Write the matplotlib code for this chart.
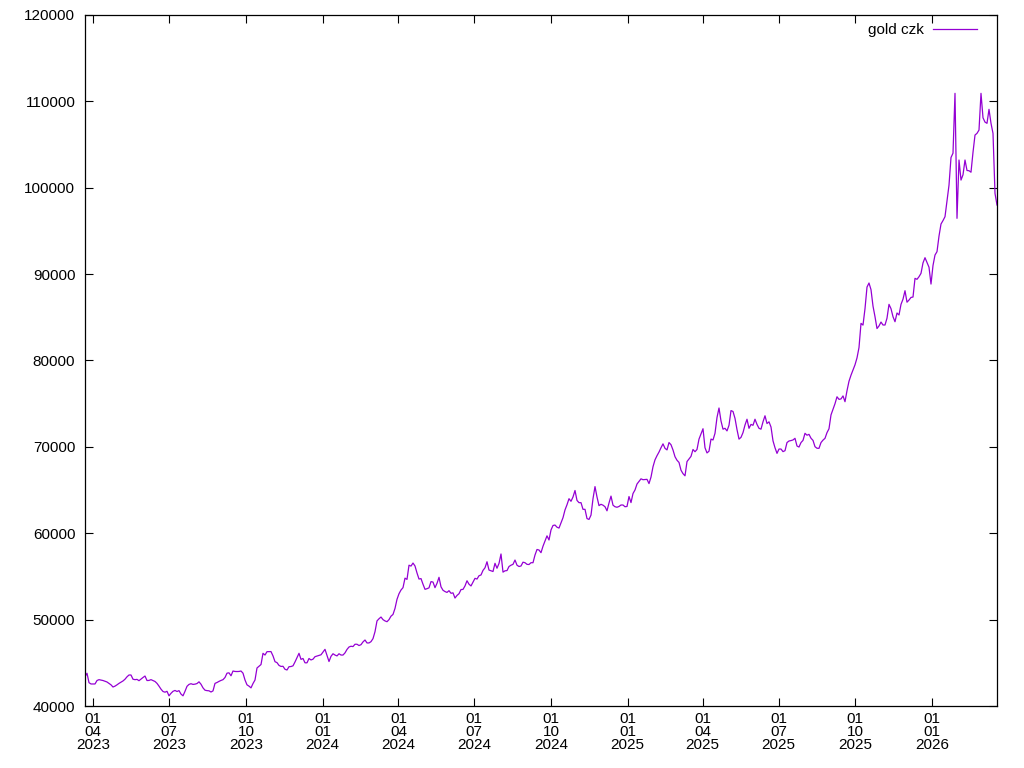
import matplotlib
matplotlib.use("Agg")
import matplotlib.pyplot as plt
import matplotlib.dates as mdates
import pandas as pd

plt.rcParams['font.family'] = ['Liberation Sans', 'DejaVu Sans']

start_date = "2023-03-22"
end_date = "2026-03-20"
series_label = "gold czk"

# gold price in CZK at evenly spaced dates
gold_2023 = [
    43400, 43790, 42700, 42550, 42550, 42550, 42950, 43050, 43000, 42950,
    42870, 42780, 42620, 42450, 42200, 42300, 42450, 42620, 42760, 42900,
    43100, 43380, 43590, 43590, 43100, 43050, 43080, 42930, 43120, 43300,
    43470, 42950, 42960, 43050, 42950, 42840, 42620, 42300, 41950, 41680,
    41600, 41700, 41180, 41470, 41700, 41800, 41680, 41780, 41380, 41180,
    41700, 42280, 42500, 42580, 42500, 42530, 42600, 42800, 42520, 42100,
    41830, 41780, 41760, 41620, 41750, 42620, 42720, 42850, 42960, 43050,
    43300, 43800, 43840, 43500, 44050, 44000, 43990, 44000, 44050,
]
gold_2023b = [
    43800, 43010, 42450, 42300, 42100, 42600, 43010, 44400, 44600, 44800,
    46100, 45900, 46290, 46290, 46300, 45800, 45130, 45020, 44700, 44580,
    44600, 44250, 44170, 44550, 44570, 44650, 45100, 45600, 46100, 45400,
    45500, 45000, 45000, 45500, 45330, 45420, 45710, 45780, 45850, 45930,
    46250, 46560, 45850, 45150, 45750, 46050, 45900, 45800, 46050, 45900,
    45900, 46150, 46550, 46830, 46920, 46880, 47150, 47150, 47000, 47100,
    47420, 47640, 47300, 47300, 47450, 47800, 48600, 49850, 50100, 50300,
    50000, 49850, 49760, 50000, 50400, 50600, 51300, 52350, 53000,
]
gold_2024 = [
    53430, 53700, 54800, 54660, 56300, 56200, 56550, 56210, 55400, 54700,
    54750, 54100, 53510, 53580, 53680, 54400, 54350, 53700, 54200, 54900,
    53800, 53400, 53250, 53150, 53350, 53050, 53100, 52500, 52800, 53000,
    53480, 53500, 53900, 54500, 54100, 53900, 54350, 54780, 54700, 55080,
    55170, 55700, 56000, 56700, 55740, 55660, 55570, 56520, 55950, 56500,
    57600, 55500, 55650, 55680, 56150, 56300, 56400, 56900, 56300, 56150,
    56210, 56650, 56590, 56400, 56380, 56590, 56590, 57480, 58120, 58060,
    57750, 58500, 59100, 59700, 59220, 60380, 60900,
]
gold_2025a = [
    60950, 60700, 60600, 61200, 61800, 62700, 63300, 64000, 63700, 64200,
    64950, 63800, 63540, 63540, 62770, 62770, 61700, 61600, 62100, 64000,
    65400, 64200, 63200, 63350, 63250, 63070, 62600, 63500, 64300, 63250,
    63070, 63010, 63100, 63270, 63270, 63070, 63100, 64250, 63550, 64600,
    65010, 65700, 66000, 66300, 66200, 66220, 66240, 65750, 66500, 67700,
    68500, 68980, 69400, 69900, 70350, 69830, 69650, 70500, 70250, 69640,
    68860, 68450, 68200, 67300, 66900, 66650, 68300, 68600, 68900, 69700,
    69440, 69700, 70900, 71500, 72100,
]
gold_2025b = [
    69900, 69300, 69500, 70900, 70800, 71570, 73400, 74500, 73000, 72050,
    72150, 71850, 72500, 74200, 74100, 73300, 72000, 70900, 71100, 71650,
    72530, 73200, 72150, 72600, 72500, 73200, 72600, 72150, 72050, 72900,
    73600, 72700, 72900, 72300, 70700, 69900, 69250, 69750, 69750, 69450,
    69560, 70500, 70680, 70730, 70800, 70990, 70100, 69980, 70500, 70750,
    71570, 71350, 71450, 71000, 70750, 70020, 69840, 69830, 70500, 70780,
    70990, 71650, 72100, 73700, 74350, 75000, 75800, 75500, 75550, 75900,
    75230, 76500,
]
gold_2026 = [
    77600, 78300, 78900, 79500, 80300, 81500, 84300, 84100, 86000, 88500,
    88970, 88200, 86300, 85070, 83700, 84000, 84450, 84110, 84110, 84900,
    86500, 86000, 85070, 84490, 85500, 85270, 86500, 87100, 88080, 86750,
    87000, 87300, 87350, 89510, 89400, 89700, 90090, 91300, 91900, 91350,
    90800, 88850, 91000, 92210, 92600, 94400, 95800, 96200, 96650, 98500,
    100300, 103500, 104000, 110930, 96460, 103210, 100890, 101500, 103210, 102000,
    101970, 101800, 104100, 106100, 106300, 106680, 110930, 108100, 107600, 107460,
    109080, 107460, 106300, 99350, 98000,
]

gold_czk = gold_2023 + gold_2023b + gold_2024 + gold_2025a + gold_2025b + gold_2026
if len(gold_czk) != 457:
    raise SystemExit("length %d" % len(gold_czk))

y_ticks = [40000, 50000, 60000, 70000, 80000, 90000, 100000, 110000, 120000]

dates = pd.date_range(start_date, end_date, periods=len(gold_czk))

fig = plt.figure(figsize=(10.24, 7.68), dpi=100)
ax = fig.add_axes([85/1024, 62/768, 912/1024, 691/768])

ax.plot(dates, gold_czk, color='#9400D3', linewidth=0.9, label=series_label)

ax.set_xlim(pd.Timestamp(start_date), pd.Timestamp(end_date))
ax.set_ylim(40000, 120000)
ax.set_yticks(y_ticks)
ax.set_yticklabels([str(v) for v in y_ticks])

ax.xaxis.set_major_locator(mdates.MonthLocator(bymonth=[1, 4, 7, 10], bymonthday=1))
ax.xaxis.set_major_formatter(mdates.DateFormatter('%d\n%m\n%Y'))

ax.tick_params(axis='both', which='major', direction='in', length=6, width=0.8,
               top=True, right=True, labelsize=11, colors='black', pad=7)
ax.tick_params(axis='x', pad=4)
for lbl in ax.get_xticklabels():
    lbl.set_linespacing(0.95)

for s in ax.spines.values():
    s.set_linewidth(0.9)
    s.set_color('black')

ax.legend(loc='upper right', bbox_to_anchor=(0.990, 1.004), frameon=False,
          markerfirst=False, fontsize=11, handlelength=2.9,
          borderaxespad=0.3, handletextpad=0.6)

fig.savefig('out.png', dpi=100)
